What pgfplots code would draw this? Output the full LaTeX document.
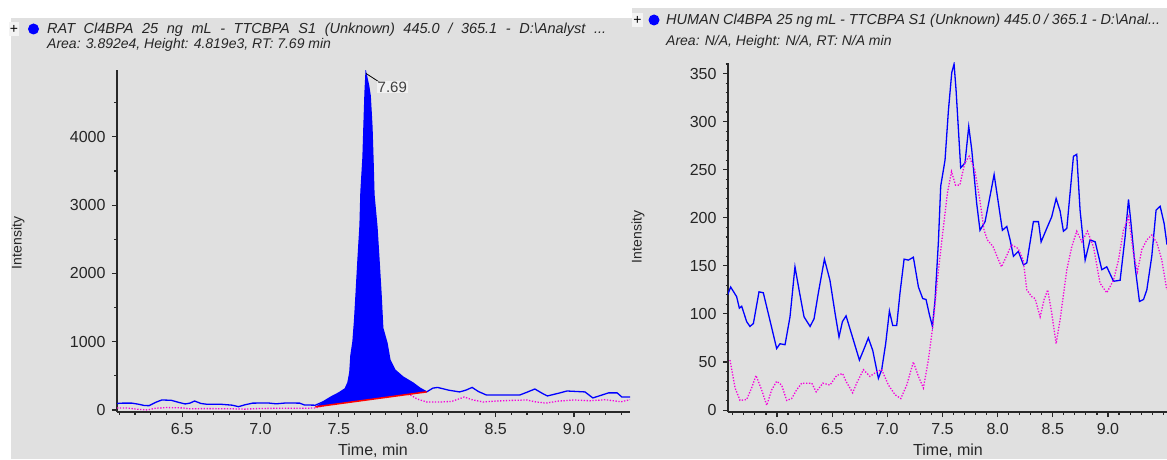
\documentclass[border=0pt]{standalone}
\usepackage{fontspec}
\setmainfont{Liberation Sans}
\usepackage{pgfplots}
\pgfplotsset{compat=1.18}
\definecolor{bg}{RGB}{224,224,224}
\definecolor{pk}{RGB}{245,0,220}
\definecolor{axc}{RGB}{40,40,40}
\pgfplotsset{chrom/.style={
  scale only axis,
  axis lines=left,
  axis line style={-, line width=1.3pt, color=axc},
  tick align=outside,
  major tick length=5pt,
  minor tick length=2.5pt,
  every tick/.style={axc, line width=1.1pt},
  /pgf/number format/assume math mode=true,
  /pgf/number format/1000 sep={},
  scaled y ticks=false,
  tick label style={font=\fontsize{16}{16}\selectfont, text=black!85},
  xticklabel style={yshift=-3pt, /pgf/number format/.cd, fixed, fixed zerofill, precision=1},
  yticklabel style={xshift=-3pt, /pgf/number format/.cd, fixed, precision=0},
  clip=true,
}}
\begin{document}
\begin{tikzpicture}[x=1pt,y=1pt]
% backgrounds
\fill[white] (0,0) rectangle (1167,459);
\fill[bg] (11,0) rectangle (631.5,441);
\fill[bg] (631.5,0) rectangle (1167,451);
% left axis
\begin{axis}[chrom, at={(117pt,47pt)}, anchor=south west, width=513pt, height=342pt,
  xmin=6.085, xmax=9.357, ymin=-30, ymax=4980,
  xtick={6.5,7,7.5,8,8.5,9},
  minor xtick={6.1,6.2,6.3,6.4,6.6,6.7,6.8,6.9,7.1,7.2,7.3,7.4,7.6,7.7,7.8,7.9,8.1,8.2,8.3,8.4,8.6,8.7,8.8,8.9,9.1,9.2,9.3},
  ytick={0,1000,2000,3000,4000},
  minor ytick={500,1500,2500,3500,4500},
]
\addplot[pk, line width=1.3pt, dash pattern=on 1.3pt off 1.6pt] coordinates {
(6.085,30)(6.15,28)(6.22,10)(6.28,0)(6.33,25)(6.4,35)(6.5,30)(6.55,18)(6.65,20)(6.8,18)(6.9,12)(7.0,22)(7.15,25)(7.3,25)(7.35,30)(7.4,60)(7.45,100)(7.5,150)(7.55,220)(7.6,600)(7.65,700)(7.7,800)(7.78,400)(7.85,260)(7.92,235)(7.96,215)(8.0,160)(8.06,117)(8.15,117)(8.22,125)(8.3,190)(8.35,150)(8.42,117)(8.5,130)(8.6,140)(8.7,146)(8.75,120)(8.82,100)(8.9,130)(9.0,146)(9.1,135)(9.2,150)(9.3,120)(9.357,150)
};
\addplot[blue, fill=blue, draw=none] coordinates {
(7.35,45)(7.40,120)(7.45,190)(7.50,250)(7.54,310)(7.558,400)(7.57,550)(7.577,800)(7.59,1000)(7.60,1300)(7.61,1700)(7.622,2200)(7.635,2700)(7.641,3200)(7.654,3700)(7.66,4150)(7.667,4650)(7.673,4930)(7.69,4750)(7.70,4600)(7.711,4150)(7.718,3650)(7.724,3150)(7.743,2680)(7.756,2200)(7.769,1700)(7.78,1200)(7.807,980)(7.826,730)(7.858,585)(7.909,483)(7.973,395)(8.017,320)(8.06,265)(7.35,45)
};
\addplot[blue, line width=1.3pt] coordinates {
(6.085,95)(6.12,100)(6.18,100)(6.22,85)(6.26,65)(6.29,63)(6.33,110)(6.37,146)(6.43,142)(6.48,110)(6.52,88)(6.55,100)(6.58,131)(6.62,95)(6.66,83)(6.75,83)(6.82,70)(6.86,48)(6.9,75)(6.95,100)(7.05,102)(7.1,90)(7.16,102)(7.25,100)(7.28,73)(7.35,70)(7.40,120)(7.45,190)(7.50,250)(7.54,310)(7.558,400)(7.57,550)(7.577,800)(7.59,1000)(7.60,1300)(7.61,1700)(7.622,2200)(7.635,2700)(7.641,3200)(7.654,3700)(7.66,4150)(7.667,4650)(7.673,4930)(7.69,4750)(7.70,4600)(7.711,4150)(7.718,3650)(7.724,3150)(7.743,2680)(7.756,2200)(7.769,1700)(7.78,1200)(7.807,980)(7.826,730)(7.858,585)(7.909,483)(7.973,395)(8.017,320)(8.06,265)(8.10,320)(8.13,330)(8.2,290)(8.27,264)(8.31,290)(8.35,330)(8.39,270)(8.44,220)(8.55,220)(8.655,220)(8.7,260)(8.75,307)(8.8,240)(8.83,205)(8.91,250)(8.955,278)(9.07,264)(9.12,176)(9.22,250)(9.275,250)(9.305,190)(9.357,190)
};
\addplot[red, line width=1.5pt] coordinates {(7.35,45)(8.06,265)};
\draw[black, line width=0.8pt] (axis cs:7.673,4930) -- (axis cs:7.76,4800);
\node[anchor=west, fill=white, fill opacity=0.55, text opacity=1, inner sep=1pt, font=\fontsize{15}{15}\selectfont, text=black!75] at (axis cs:7.74,4730) {7.69};
\end{axis}
% right axis
\begin{axis}[chrom, at={(728pt,47pt)}, anchor=south west, width=439pt, height=349pt,
  xmin=5.556, xmax=9.535, ymin=-2, ymax=361,
  xtick={6,6.5,7,7.5,8,8.5,9},
  minor xtick={5.6,5.7,5.8,5.9,6.1,6.2,6.3,6.4,6.6,6.7,6.8,6.9,7.1,7.2,7.3,7.4,7.6,7.7,7.8,7.9,8.1,8.2,8.3,8.4,8.6,8.7,8.8,8.9,9.1,9.2,9.3,9.4,9.5},
  ytick={0,50,100,150,200,250,300,350},
  minor ytick={10,20,30,40,60,70,80,90,110,120,130,140,160,170,180,190,210,220,230,240,260,270,280,290,310,320,330,340,360},
]
\addplot[blue, line width=1.3pt] coordinates {
(5.553,120)(5.58,128)(5.634,118)(5.659,106)(5.68,108)(5.725,92)(5.755,87)(5.786,90)(5.837,123)(5.876,122)(5.943,90)(5.997,64)(6.027,69)(6.073,68)(6.118,97)(6.163,149)(6.2,125)(6.245,97)(6.3,87)(6.336,95)(6.375,122)(6.43,157)(6.48,135)(6.526,101)(6.562,76)(6.593,92)(6.626,98)(6.692,73)(6.747,52)(6.783,62)(6.828,75)(6.868,62)(6.919,33)(6.949,42)(6.985,69)(7.019,103)(7.049,88)(7.085,88)(7.115,122)(7.152,157)(7.191,156)(7.236,159)(7.282,128)(7.321,116)(7.351,115)(7.382,99)(7.409,87)(7.433,115)(7.463,175)(7.484,233)(7.523,260)(7.554,312)(7.584,351)(7.605,360)(7.623,333)(7.665,252)(7.704,257)(7.738,295)(7.765,271)(7.81,215)(7.84,187)(7.886,196)(7.925,219)(7.968,245)(8.007,215)(8.043,187)(8.083,191)(8.113,177)(8.143,160)(8.188,165)(8.234,151)(8.264,153)(8.324,196)(8.37,196)(8.394,175)(8.445,189)(8.49,201)(8.53,220)(8.566,207)(8.596,186)(8.627,189)(8.687,264)(8.717,266)(8.747,208)(8.793,156)(8.838,177)(8.884,175)(8.944,146)(8.989,149)(9.05,134)(9.11,135)(9.155,180)(9.186,219)(9.207,196)(9.246,149)(9.285,113)(9.322,115)(9.352,125)(9.397,160)(9.436,208)(9.473,212)(9.509,194)(9.535,172)
};
\addplot[pk, line width=1.3pt, dash pattern=on 1.3pt off 1.6pt] coordinates {
(5.574,52)(5.62,23)(5.665,10)(5.725,11)(5.77,23)(5.81,36)(5.861,21)(5.907,5)(5.952,21)(5.997,30)(6.042,26)(6.088,10)(6.133,12)(6.178,21)(6.224,28)(6.315,28)(6.355,19)(6.416,28)(6.48,26)(6.541,36)(6.595,38)(6.625,30)(6.686,18)(6.722,28)(6.783,42)(6.843,35)(6.904,40)(6.949,42)(7.01,26)(7.07,16)(7.122,12)(7.176,26)(7.236,50)(7.282,35)(7.327,23)(7.372,52)(7.412,87)(7.46,142)(7.505,187)(7.545,226)(7.582,248)(7.618,234)(7.657,234)(7.702,257)(7.742,264)(7.792,250)(7.838,219)(7.877,187)(7.907,177)(7.958,170)(8.034,149)(8.08,160)(8.125,172)(8.186,168)(8.232,156)(8.264,125)(8.309,118)(8.339,116)(8.385,97)(8.421,115)(8.454,125)(8.49,101)(8.53,69)(8.566,94)(8.627,146)(8.672,170)(8.717,186)(8.763,175)(8.814,186)(8.868,170)(8.928,132)(8.989,122)(9.05,135)(9.095,156)(9.14,187)(9.186,201)(9.231,163)(9.267,144)(9.307,167)(9.352,177)(9.397,182)(9.443,174)(9.488,156)(9.533,125)
};
\end{axis}
% axis labels
\node[rotate=90, font=\fontsize{14}{14}\selectfont, text=black!85] at (18,216) {Intensity};
\node[rotate=90, font=\fontsize{14}{14}\selectfont, text=black!85] at (638,222) {Intensity};
\node[font=\fontsize{16}{16}\selectfont, text=black!85] at (373,8) {Time, min};
\node[font=\fontsize{16}{16}\selectfont, text=black!85] at (948,8) {Time, min};
% titles
\fill[white!60!bg] (9,423) rectangle (19,437);
\node[font=\fontsize{14}{14}\selectfont, inner sep=0pt] at (14,430) {+};
\fill[blue] (33.5,430) circle (5.5);
\node[anchor=base west, inner sep=0pt, font=\itshape\fontsize{14.5}{14.5}\selectfont, text=black!85] at (47,425) {\makebox[559pt][s]{RAT Cl4BPA 25 ng mL - TTCBPA S1 (Unknown) 445.0 / 365.1 - D:\textbackslash Analyst ...}};
\node[anchor=base west, inner sep=0pt, font=\itshape\fontsize{14}{14}\selectfont, text=black!85] at (47,410) {Area: 3.892e4, Height: 4.819e3, RT: 7.69 min};
\fill[white!60!bg] (632,432) rectangle (643,446);
\node[font=\fontsize{14}{14}\selectfont, inner sep=0pt] at (637.5,439) {+};
\fill[blue] (654,439) circle (5.5);
\node[anchor=base west, inner sep=0pt, font=\itshape\fontsize{14.5}{14.5}\selectfont, text=black!85] at (666,434) {\makebox[494pt][s]{HUMAN Cl4BPA 25 ng mL - TTCBPA S1 (Unknown) 445.0 / 365.1 - D:\textbackslash Anal...}};
\node[anchor=base west, inner sep=0pt, font=\itshape\fontsize{14}{14}\selectfont, text=black!85] at (666,413) {Area: N/A, Height: N/A, RT: N/A min};
\pgfresetboundingbox
\useasboundingbox (0,0) rectangle (1167,459);
\end{tikzpicture}
\end{document}
